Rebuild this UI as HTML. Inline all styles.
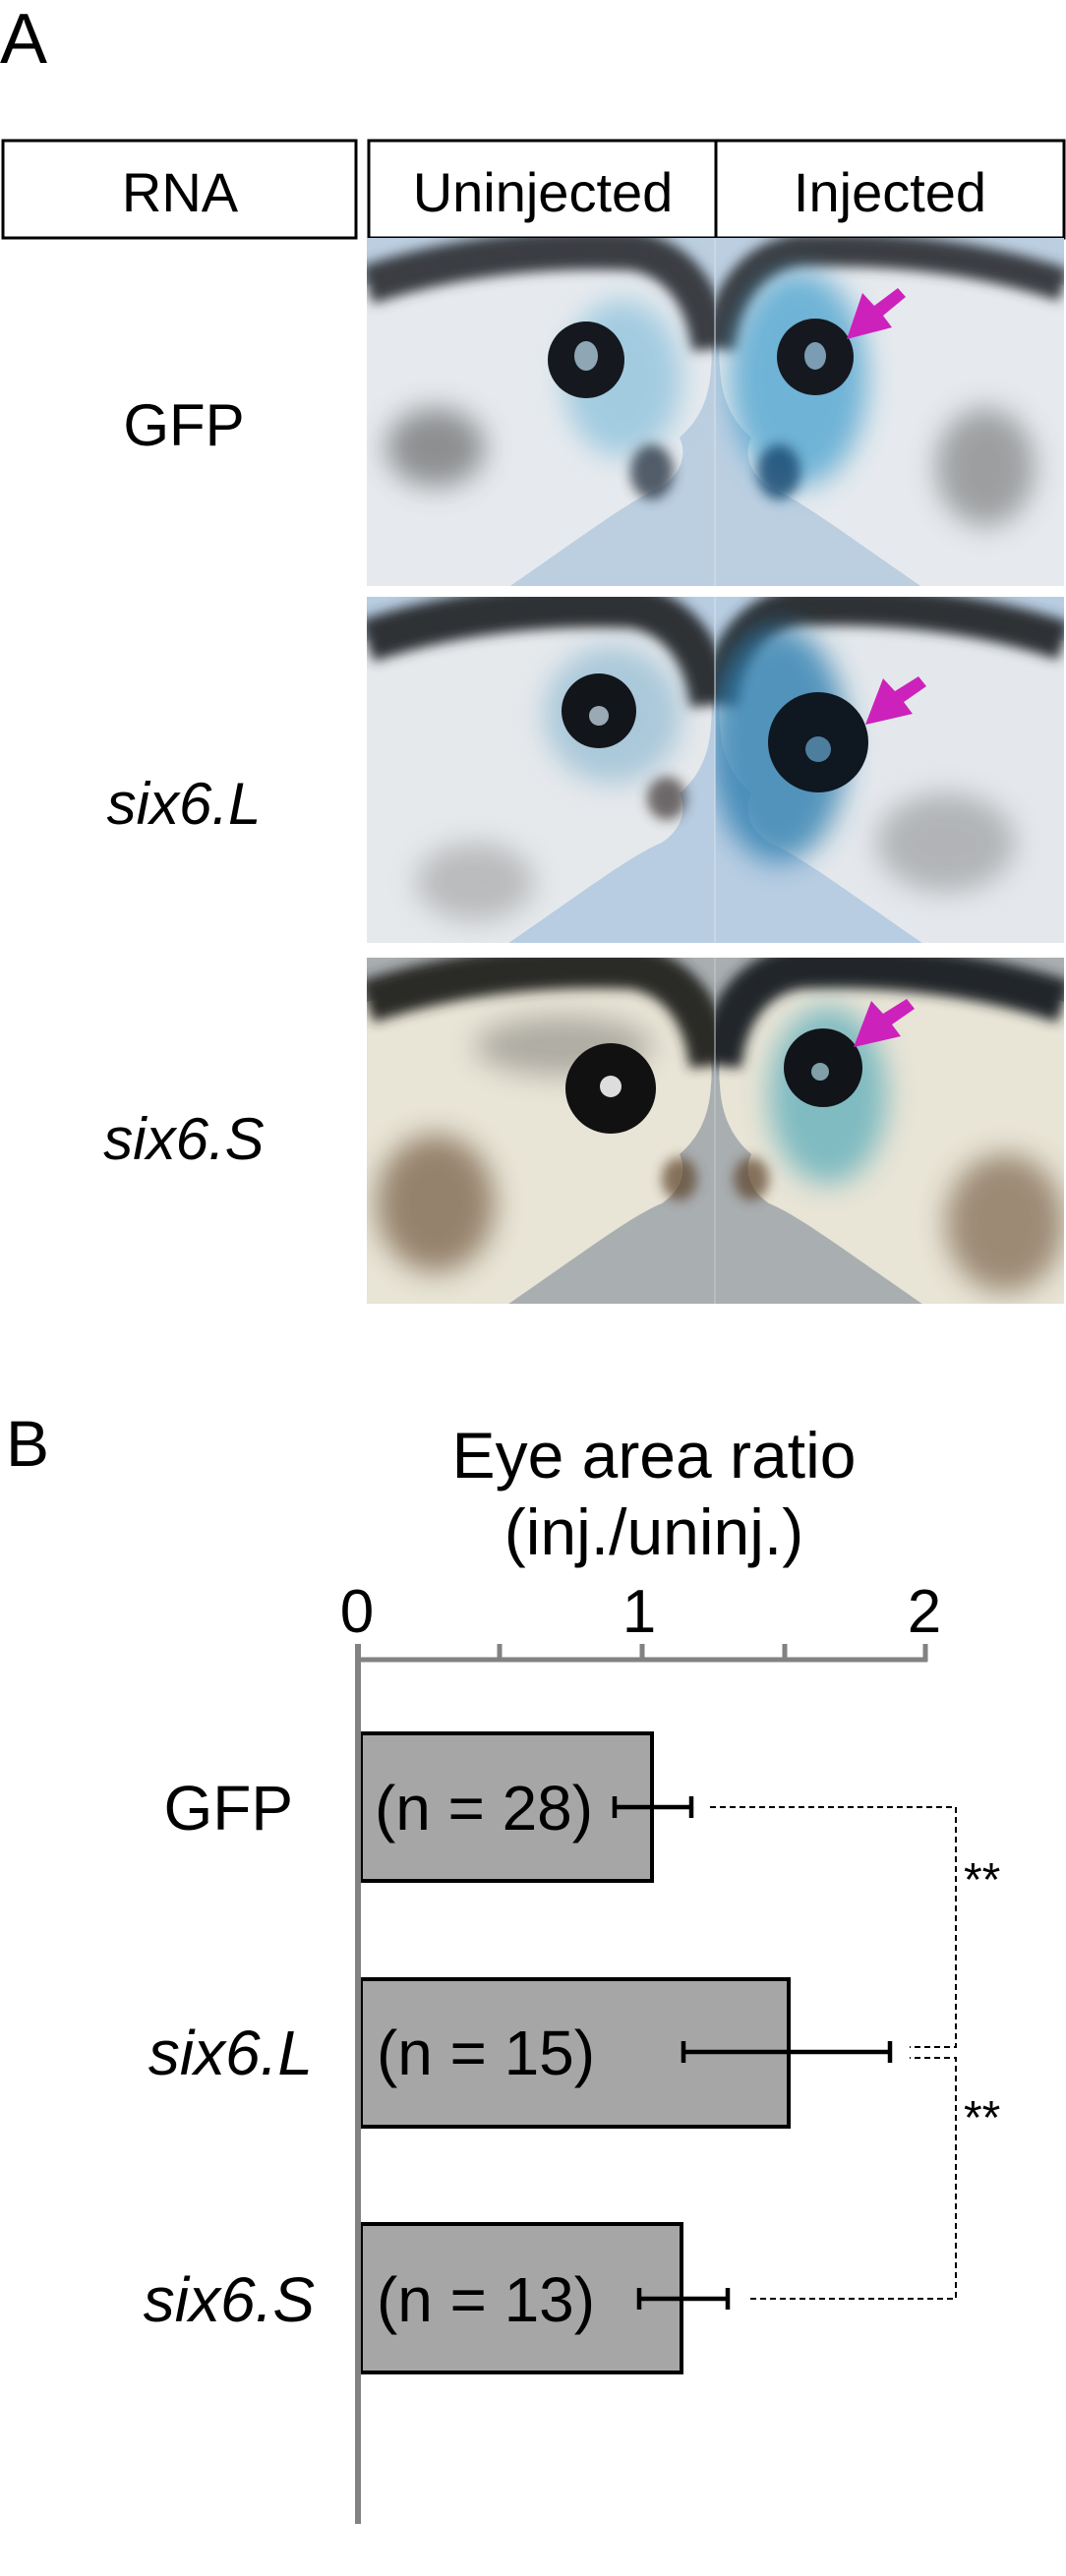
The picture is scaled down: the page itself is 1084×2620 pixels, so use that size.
<!DOCTYPE html>
<html><head><meta charset="utf-8"><style>
html,body{margin:0;padding:0;background:#fff;}
svg{display:block;}
text{font-family:"Liberation Sans",Arial,sans-serif;fill:#000;}
</style></head><body>
<svg width="1084" height="2620" viewBox="0 0 1084 2620" xmlns="http://www.w3.org/2000/svg">
<defs>
<filter id="bl" x="-50%" y="-50%" width="200%" height="200%"><feGaussianBlur stdDeviation="14"/></filter>
<filter id="bl2" x="-50%" y="-50%" width="200%" height="200%"><feGaussianBlur stdDeviation="6"/></filter>
<clipPath id="c1l"><rect x="373" y="242" width="354" height="354"/></clipPath>
<clipPath id="c1r"><rect x="727" y="242" width="355" height="354"/></clipPath>
<clipPath id="c2l"><rect x="373" y="607" width="354" height="352"/></clipPath>
<clipPath id="c2r"><rect x="727" y="607" width="355" height="352"/></clipPath>
<clipPath id="c3l"><rect x="373" y="974" width="354" height="352"/></clipPath>
<clipPath id="c3r"><rect x="727" y="974" width="355" height="352"/></clipPath>
<path id="head" d="M0,45 C60,25 150,5 270,10 C330,20 355,80 350,130 C348,165 335,185 318,200 C325,215 322,235 300,250 C270,262 220,300 140,355 L0,355 Z"/>
<path id="band" d="M0,45 C60,25 150,5 270,10 C320,18 345,60 350,110" fill="none"/>
</defs>

<text x="0" y="64" font-size="72">A</text>
<rect x="3" y="143" width="359" height="99" fill="#fff" stroke="#000" stroke-width="3"/>
<rect x="375" y="143" width="707" height="99" fill="#fff" stroke="#000" stroke-width="3"/>
<line x1="728" y1="143" x2="728" y2="242" stroke="#000" stroke-width="3"/>
<text x="183" y="215" font-size="56" text-anchor="middle">RNA</text>
<text x="552" y="215" font-size="56" text-anchor="middle">Uninjected</text>
<text x="905" y="215" font-size="56" text-anchor="middle">Injected</text>

<!-- Row 1 -->
<rect x="373" y="242" width="709" height="354" fill="#bccfe1"/>
<g clip-path="url(#c1l)">
 <g transform="translate(373,245)">
  <use href="#head" fill="#e6eaee"/>
  <use href="#band" stroke="#3a3d42" stroke-width="40" filter="url(#bl2)"/>
  <ellipse cx="70" cy="210" rx="50" ry="40" fill="#444" opacity=".55" filter="url(#bl)"/>
  <ellipse cx="260" cy="140" rx="60" ry="80" fill="#6cb2d6" opacity=".55" filter="url(#bl)"/>
  <ellipse cx="290" cy="235" rx="22" ry="28" fill="#2e3a48" opacity=".8" filter="url(#bl2)"/>
 </g>
 <circle cx="596" cy="366" r="39" fill="#15191f"/><ellipse cx="596" cy="362" rx="12" ry="15" fill="#8fa6b4"/>
</g>
<g clip-path="url(#c1r)">
 <g transform="translate(1082,245) scale(-1,1)">
  <use href="#head" fill="#e6eaee"/>
  <use href="#band" stroke="#3a3d42" stroke-width="34" filter="url(#bl2)"/>
  <ellipse cx="80" cy="230" rx="50" ry="60" fill="#555" opacity=".5" filter="url(#bl)"/>
  <ellipse cx="270" cy="140" rx="70" ry="110" fill="#3d9ccc" opacity=".7" filter="url(#bl)"/>
  <ellipse cx="290" cy="235" rx="22" ry="28" fill="#1d4e74" opacity=".85" filter="url(#bl2)"/>
 </g>
 <circle cx="829" cy="363" r="39" fill="#15191f"/><ellipse cx="829" cy="362" rx="11" ry="14" fill="#7b9cb3"/>
</g>
<line x1="727" y1="242" x2="727" y2="596" stroke="#d8e2ea" stroke-width="1"/>
<polygon points="861,345 877,298 889,311 913,293 921,302 898,321 907,333" fill="#cc22bb"/>

<!-- Row 2 -->
<rect x="373" y="607" width="709" height="352" fill="#b8cde2"/>
<g clip-path="url(#c2l)">
 <g transform="translate(373,607)">
  <use href="#head" fill="#e6e9ec"/>
  <use href="#band" stroke="#2f3236" stroke-width="44" filter="url(#bl2)"/>
  <ellipse cx="250" cy="120" rx="70" ry="70" fill="#6fa8c8" opacity=".5" filter="url(#bl)"/>
  <ellipse cx="110" cy="290" rx="60" ry="40" fill="#777" opacity=".4" filter="url(#bl)"/>
  <ellipse cx="305" cy="205" rx="20" ry="22" fill="#3a3030" opacity=".7" filter="url(#bl2)"/>
 </g>
 <circle cx="609" cy="723" r="38" fill="#12151a"/><circle cx="609" cy="728" r="10" fill="#9aaab4"/>
</g>
<g clip-path="url(#c2r)">
 <g transform="translate(1082,607) scale(-1,1)">
  <use href="#head" fill="#e4e8ec"/>
  <use href="#band" stroke="#2f3236" stroke-width="40" filter="url(#bl2)"/>
  <ellipse cx="290" cy="150" rx="70" ry="120" fill="#2d7fb0" opacity=".8" filter="url(#bl)"/>
  <ellipse cx="120" cy="250" rx="70" ry="50" fill="#666" opacity=".4" filter="url(#bl)"/>
 </g>
 <circle cx="832" cy="755" r="51" fill="#0f1720"/><circle cx="832" cy="762" r="13" fill="#4d7e9e"/>
</g>
<line x1="727" y1="607" x2="727" y2="959" stroke="#d8e2ea" stroke-width="1"/>
<polygon points="880,737 898,690 910,703 934,688 942,698 919,714 928,726" fill="#cc22bb"/>

<!-- Row 3 -->
<rect x="373" y="974" width="709" height="352" fill="#a9aeb1"/>
<g clip-path="url(#c3l)">
 <g transform="translate(373,974)">
  <use href="#head" fill="#e8e4d6"/>
  <use href="#band" stroke="#2a2a28" stroke-width="44" filter="url(#bl2)"/>
  <ellipse cx="70" cy="250" rx="60" ry="70" fill="#6a5034" opacity=".65" filter="url(#bl)"/>
  <ellipse cx="200" cy="90" rx="90" ry="30" fill="#444" opacity=".35" filter="url(#bl)"/>
  <ellipse cx="318" cy="225" rx="18" ry="22" fill="#5a4028" opacity=".7" filter="url(#bl2)"/>
 </g>
 <circle cx="621" cy="1107" r="46" fill="#111"/><circle cx="621" cy="1105" r="11" fill="#ddd"/>
</g>
<g clip-path="url(#c3r)">
 <g transform="translate(1082,974) scale(-1,1)">
  <use href="#head" fill="#e8e4d6"/>
  <use href="#band" stroke="#24282a" stroke-width="44" filter="url(#bl2)"/>
  <ellipse cx="240" cy="140" rx="60" ry="90" fill="#3aa0b4" opacity=".6" filter="url(#bl)"/>
  <ellipse cx="60" cy="270" rx="60" ry="70" fill="#6a5034" opacity=".6" filter="url(#bl)"/>
  <ellipse cx="318" cy="225" rx="18" ry="22" fill="#5a4028" opacity=".7" filter="url(#bl2)"/>
 </g>
 <circle cx="837" cy="1086" r="40" fill="#111418"/><circle cx="834" cy="1090" r="9" fill="#7fa0a8"/>
</g>
<line x1="727" y1="974" x2="727" y2="1326" stroke="#c8ccce" stroke-width="1"/>
<polygon points="868,1065 886,1018 898,1031 922,1016 930,1026 907,1042 916,1054" fill="#cc22bb"/>

<text x="187" y="453" font-size="60" text-anchor="middle">GFP</text>
<text x="187" y="838" font-size="60" text-anchor="middle" font-style="italic">six6.L</text>
<text x="187" y="1179" font-size="60" text-anchor="middle" font-style="italic">six6.S</text>

<!-- B chart -->
<text x="6" y="1491" font-size="66">B</text>
<text x="665" y="1503" font-size="66" text-anchor="middle">Eye area ratio</text>
<text x="665" y="1581" font-size="66" text-anchor="middle">(inj./uninj.)</text>
<text x="363" y="1660" font-size="62" text-anchor="middle">0</text>
<text x="650" y="1660" font-size="62" text-anchor="middle">1</text>
<text x="940" y="1660" font-size="62" text-anchor="middle">2</text>
<g stroke="#828282" stroke-width="5" fill="none">
 <line x1="363" y1="1688" x2="943" y2="1688"/>
 <line x1="508" y1="1672" x2="508" y2="1688"/>
 <line x1="653" y1="1672" x2="653" y2="1688"/>
 <line x1="798" y1="1672" x2="798" y2="1688"/>
 <line x1="941" y1="1672" x2="941" y2="1690"/>
</g>
<g fill="#a6a6a6" stroke="#000" stroke-width="4">
 <rect x="367" y="1763" width="296" height="150"/>
 <rect x="367" y="2013" width="435" height="150"/>
 <rect x="367" y="2262" width="326" height="151"/>
</g>
<line x1="364" y1="1672" x2="364" y2="2567" stroke="#828282" stroke-width="6"/>
<g stroke="#000" stroke-width="4.5">
 <line x1="625" y1="1838" x2="703" y2="1838"/><line x1="625" y1="1827" x2="625" y2="1849"/><line x1="703" y1="1827" x2="703" y2="1849"/>
 <line x1="695" y1="2087" x2="905" y2="2087"/><line x1="695" y1="2076" x2="695" y2="2098"/><line x1="905" y1="2076" x2="905" y2="2098"/>
 <line x1="650" y1="2338" x2="740" y2="2338"/><line x1="650" y1="2327" x2="650" y2="2349"/><line x1="740" y1="2327" x2="740" y2="2349"/>
</g>
<g stroke="#000" stroke-width="2" stroke-dasharray="6,4" fill="none">
 <polyline points="722,1838 972,1838 972,2082 925,2082"/>
 <polyline points="763,2338 972,2338 972,2093 925,2093"/>
</g>
<text x="980" y="1928" font-size="48">**</text>
<text x="980" y="2170" font-size="48">**</text>
<text x="381" y="1861" font-size="64" textLength="222">(n = 28)</text>
<text x="383" y="2110" font-size="64" textLength="222">(n = 15)</text>
<text x="383" y="2361" font-size="64" textLength="222">(n = 13)</text>
<text x="298" y="1861" font-size="64" text-anchor="end">GFP</text>
<text x="318" y="2110" font-size="64" text-anchor="end" font-style="italic">six6.L</text>
<text x="320" y="2361" font-size="64" text-anchor="end" font-style="italic">six6.S</text>
</svg>
</body></html>
